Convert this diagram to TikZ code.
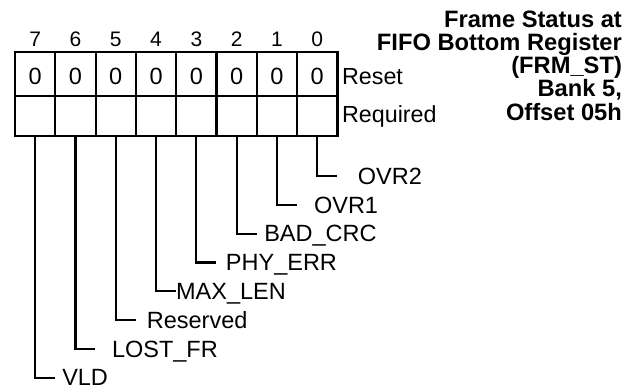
\documentclass[tikz,border=0pt]{standalone}
\usepackage{fontspec}
\setmainfont{Liberation Sans}
\begin{document}
\begin{tikzpicture}[x=1pt,y=-1pt,line width=2.2pt,
  topcell/.style={draw,minimum width=40.3pt,minimum height=44pt,inner sep=0pt,
    text height=22pt,text depth=0pt,font=\fontsize{23.5}{23.5}\selectfont},
  botcell/.style={draw,minimum width=40.3pt,minimum height=40pt,inner sep=0pt},
  bitnum/.style={anchor=base,inner sep=0pt,font=\fontsize{21}{21}\selectfont},
  rowlab/.style={anchor=base west,inner sep=0pt,font=\fontsize{23.3}{23.3}\selectfont},
  fieldlab/.style={anchor=base west,inner sep=0pt,yshift=-8.3pt,font=\fontsize{23.5}{23.5}\selectfont},
  title/.style={anchor=north east,inner sep=0pt,align=right,font=\bfseries\fontsize{23.7}{23.2}\selectfont},
  conn/.style={line width=2.2pt}]
\useasboundingbox (0,0) rectangle (638,390);

% register cells
\foreach \b [count=\i from 0] in {7,6,5,4,3,2,1,0}{
  \node[topcell] (v\b) at ({15+40.3*(\i+0.5)},74) {0};
  \node[botcell] (r\b) at ({15+40.3*(\i+0.5)},116) {};
  \node[bitnum] (n\b) at ({15+40.3*(\i+0.5)},46.7) {\b};
}

\node[rowlab] (reset) at (341,85) {Reset};
\node[rowlab] (req) at (341,123) {Required};

\node[title] (ttl) at (623,9.7) {Frame Status at\\FIFO Bottom Register\\(FRM\_ST)\\Bank 5,\\Offset 05h};

% field connectors
\foreach \b/\txt/\gap in {0/OVR2/19.5,1/OVR1/16,2/BAD\_CRC/6.5,3/PHY\_ERR/8.5,4/MAX\_LEN/-1,5/Reserved/10,6/LOST\_FR/15.5,7/VLD/6}{
  \path (r\b.south) ++(20,{175+28.8*\b-136}) coordinate (e\b);
  \draw[conn] (r\b.south) |- (e\b);
  \node[fieldlab] (f\b) at ([xshift=\gap pt]e\b) {\txt};
}
\end{tikzpicture}
\end{document}
